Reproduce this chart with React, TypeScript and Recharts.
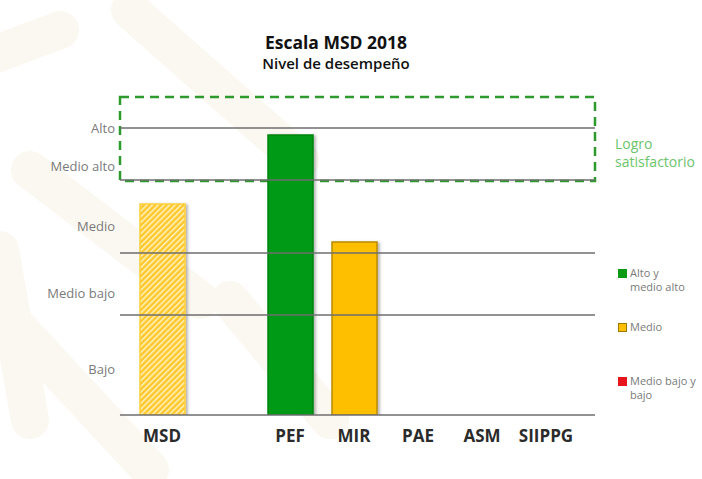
import React from 'react';
import {
  BarChart,
  Bar,
  Cell,
  XAxis,
  YAxis,
  ReferenceLine,
  ReferenceArea,
} from 'recharts';

// categories (blank slot between MSD and PEF, as in the original)
const categories = ['MSD', ' ', 'PEF', 'MIR', 'PAE', 'ASM', 'SIIPPG'];
const levels = [211, null, 280, 173, null, null, null];
const barFills = ['url(#hatch)', '#ccc', '#069a14', '#fdbf00', '#ccc', '#ccc', '#ccc'];
const barStrokes = ['#ffd03a', '#ccc', '#05850f', '#b88b00', '#ccc', '#ccc', '#ccc'];

// scale boundaries and labels
const gridLevels = [0, 100, 162, 235, 287];
const yTickValues = [287, 249, 189, 122, 46];
const yTickLabels = ['Alto', 'Medio  alto', 'Medio', 'Medio bajo', 'Bajo'];
const goalBand = [234, 318];

const legendItems = [
  { color: '#0a9a14', border: '#0a9a14', lines: ['Alto y', 'medio alto'], top: 266 },
  { color: '#fdbf00', border: '#9c7a00', lines: ['Medio'], top: 320 },
  { color: '#e8141b', border: '#e8141b', lines: ['Medio bajo y', 'bajo'], top: 374 },
];

const data = categories.map((name, i) => ({ name, value: levels[i] }));

// dashed box reaches the full width of the grid lines (past the axis padding)
const GoalBox = (props: any) => (
  <rect
    x={props.x - 10}
    y={props.y}
    width={props.width + 27}
    height={props.height}
    fill="none"
    stroke="#2e9a2e"
    strokeWidth={2.5}
    strokeDasharray="9 6"
  />
);

export default function App() {
  return (
    <div style={{ position: 'relative', width: 702, height: 479, background: '#fff', fontFamily: 'Open Sans, sans-serif' }}>
      <style>{'body{margin:0}'}</style>
      <svg width={702} height={479} style={{ position: 'absolute', left: 0, top: 0 }}>
        <g stroke="#fbf8f1" strokeWidth={38} strokeLinecap="round" fill="none">
          <path d="M-20 60 L60 30" />
          <path d="M130 10 L300 160" />
          <path d="M30 170 L200 300" />
          <path d="M20 330 L150 470" />
          <path d="M230 300 L330 420" />
          <path d="M0 250 L30 420" />
        </g>
      </svg>
      <div style={{ position: 'absolute', left: 0, width: 672, top: 31, textAlign: 'center', color: '#111' }}>
        <div style={{ fontSize: 17.5, fontWeight: 700, lineHeight: '23px' }}>Escala MSD 2018</div>
        <div style={{ fontSize: 15, fontWeight: 600, lineHeight: '18px' }}>Nivel de desempeño</div>
      </div>
      <div style={{ position: 'absolute', left: 0, top: 0 }}>
        <BarChart
          width={702}
          height={479}
          data={data}
          margin={{ top: 95, right: 107, bottom: 34, left: 0 }}
          barSize={45}
        >
          <defs>
            <pattern id="hatch" width="4" height="4" patternUnits="userSpaceOnUse" patternTransform="rotate(45)">
              <rect width="4" height="4" fill="#ffc72a" />
              <rect width="1.5" height="4" fill="#fff3c4" />
            </pattern>
            <filter id="shadow" x="-20%" y="-5%" width="150%" height="115%">
              <feDropShadow dx="2" dy="1" stdDeviation="1.5" floodColor="#000" floodOpacity="0.3" />
            </filter>
          </defs>
          <XAxis
            dataKey="name"
            height={30}
            axisLine={false}
            tickLine={false}
            tickSize={0}
            tickMargin={15}
            padding={{ left: 10, right: 17 }}
            interval={0}
            tick={{ fill: '#2b2b2b', fontSize: 17, fontWeight: 700, fontFamily: 'Open Sans, sans-serif' }}
          />
          <YAxis
            type="number"
            domain={[0, 320]}
            ticks={yTickValues}
            tickFormatter={(v: number) => yTickLabels[yTickValues.indexOf(v)]}
            axisLine={false}
            tickLine={false}
            tickSize={0}
            tickMargin={5}
            width={120}
            interval={0}
            allowDataOverflow
            tick={{ fill: '#7a7a7a', fontSize: 13, fontFamily: 'Open Sans, sans-serif', style: { whiteSpace: 'pre' } }}
          />
          {gridLevels.map((g) => (
            <ReferenceLine key={g} y={g} stroke="#6e6e6e" strokeWidth={1.3} />
          ))}
          <Bar dataKey="value" isAnimationActive={false} filter="url(#shadow)" strokeWidth={1.5}>
            {data.map((d, i) => (
              <Cell key={d.name + i} fill={barFills[i]} stroke={barStrokes[i]} />
            ))}
          </Bar>
          <ReferenceArea y1={goalBand[0]} y2={goalBand[1]} ifOverflow="visible" shape={GoalBox} />
        </BarChart>
      </div>
      <div style={{ position: 'absolute', left: 615, top: 135, color: '#6cc46c', fontSize: 14, lineHeight: '18px' }}>
        <div>Logro</div>
        <div>satisfactorio</div>
      </div>
      {legendItems.map((item) => (
        <div key={item.lines[0]} style={{ position: 'absolute', left: 618, top: item.top, display: 'flex', color: '#7a7a7a', fontSize: 11, lineHeight: '14px' }}>
          <div style={{ width: 7, height: 7, marginTop: 3, marginRight: 3, background: item.color, border: `1px solid ${item.border}` }} />
          <div>
            {item.lines.map((l) => (
              <div key={l}>{l}</div>
            ))}
          </div>
        </div>
      ))}
    </div>
  );
}
